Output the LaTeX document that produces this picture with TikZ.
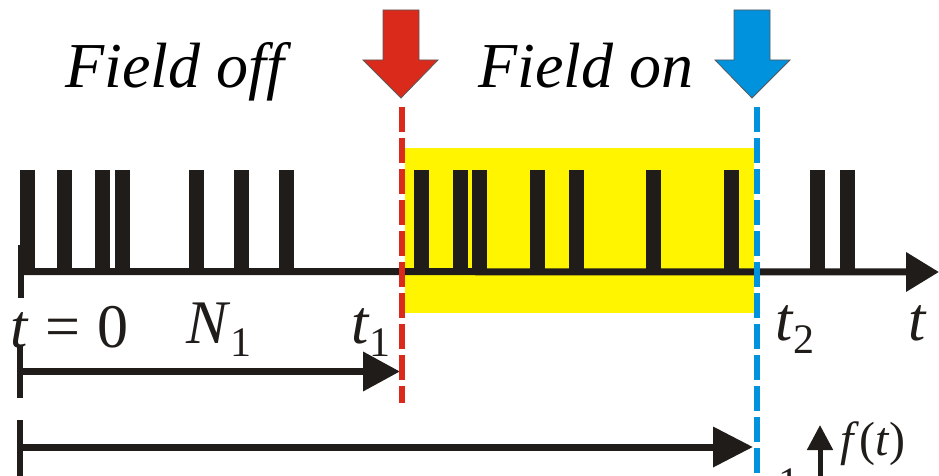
\documentclass[tikz,border=0pt]{standalone}
\usepackage{fontspec}
\setmainfont{Liberation Serif}
\usetikzlibrary{arrows.meta}
\definecolor{ink}{RGB}{32,28,26}
\definecolor{fieldred}{RGB}{218,42,28}
\definecolor{fieldblue}{RGB}{0,146,221}
\definecolor{hl}{RGB}{255,245,0}
\newcommand{\lowsub}[1]{\raisebox{-13pt}{\fontsize{42}{42}\selectfont #1}}
\tikzset{
  pulse/.style={fill=ink},
  lbl/.style={inner sep=0pt, anchor=base west, text=ink, font=\fontsize{62}{62}\selectfont},
  title/.style={inner sep=0pt, anchor=base west, text=black, font=\fontsize{64}{64}\selectfont\itshape},
  thickarrow/.style={draw=ink, line width=7pt, -{Triangle[length=37pt,width=38pt]}},
  tickline/.style={draw=ink, line width=6pt},
  fieldmark/.style={line width=6pt, dash pattern=on 25pt off 6pt},
  blockarrow/.style={draw=gray!70!black, line width=0.8pt}
}
\begin{document}
\begin{tikzpicture}[x=1pt,y=-1pt]
\useasboundingbox (0,0) rectangle (939,476);
\clip (0,0) rectangle (939,476);
% highlighted interval
\fill[hl] (405,148) rectangle (754,313);
% pulses
\foreach \x in {20,57,95,115,189,234,279,414,453,472,530,569,646,724,810,840}
  \fill[pulse] (\x,170) rectangle ++(15,102);
% time axis
\coordinate (axstart) at (21,271.5);
\coordinate (axend) at (939,272);
\draw[draw=ink, line width=7pt, -{Triangle[length=33pt,width=38pt]}] (axstart) -- (axend);
\coordinate (t0top) at (21,245);
\coordinate (t0bot) at (21,298);
\draw[tickline] (t0top) -- (t0bot);
% interval arrows
\coordinate (a1top) at (20,345);
\coordinate (a1bot) at (20,398);
\coordinate (a1start) at (20,371.5);
\coordinate (a1end) at (400,371.5);
\draw[tickline] (a1top) -- (a1bot);
\draw[thickarrow] (a1start) -- (a1end);
\coordinate (a2top) at (20,420);
\coordinate (a2bot) at (20,480);
\coordinate (a2start) at (20,447);
\coordinate (a2end) at (753,447);
\draw[tickline] (a2top) -- (a2bot);
\draw[draw=ink, line width=7pt, -{Triangle[length=40pt,width=39pt]}] (a2start) -- (a2end);
% field switch markers
\coordinate (redtop) at (402,107);
\coordinate (redbot) at (402,403);
\coordinate (bluetop) at (757,107);
\coordinate (bluebot) at (757,480);
\draw[fieldmark, draw=fieldred] (redtop) -- (redbot);
\draw[fieldmark, draw=fieldblue] (bluetop) -- (bluebot);
% block arrows
\filldraw[blockarrow, fill=fieldred] (383,10) -- (419,10) -- (419,60) -- (438,60) -- (401,98) -- (363,60) -- (383,60) -- cycle;
\filldraw[blockarrow, fill=fieldblue] (734,10) -- (770,10) -- (770,60) -- (790,60) -- (752,98) -- (715,60) -- (734,60) -- cycle;
% small f(t) arrow
\coordinate (fbot) at (820,480);
\coordinate (ftop) at (820,425);
\draw[draw=ink, line width=5pt, -{Triangle[length=25pt,width=25pt]}] (fbot) -- (ftop);
% labels
\node[title] (off) at (65,88) {Field off};
\node[title] (on) at (478,88) {Field on};
\node[lbl] (tzero) at (10,347) {\textit{t}\hspace{0.27em}=\hspace{0.27em}0};
\node[lbl] (n1) at (186,343) {\textit{N}\lowsub{1}};
\node[lbl] (t1) at (351,343) {\textit{t}\lowsub{1}};
\node[lbl] (t2) at (775,340) {\textit{t}\lowsub{2}};
\node[lbl] (tax) at (908,340) {\textit{t}};
\node[lbl, font=\fontsize{48}{48}\selectfont] (ft) at (840,455) {\textit{f}(\textit{t})};
\node[lbl, font=\fontsize{42}{42}\selectfont] (one) at (778,496) {1};
\end{tikzpicture}
\end{document}
